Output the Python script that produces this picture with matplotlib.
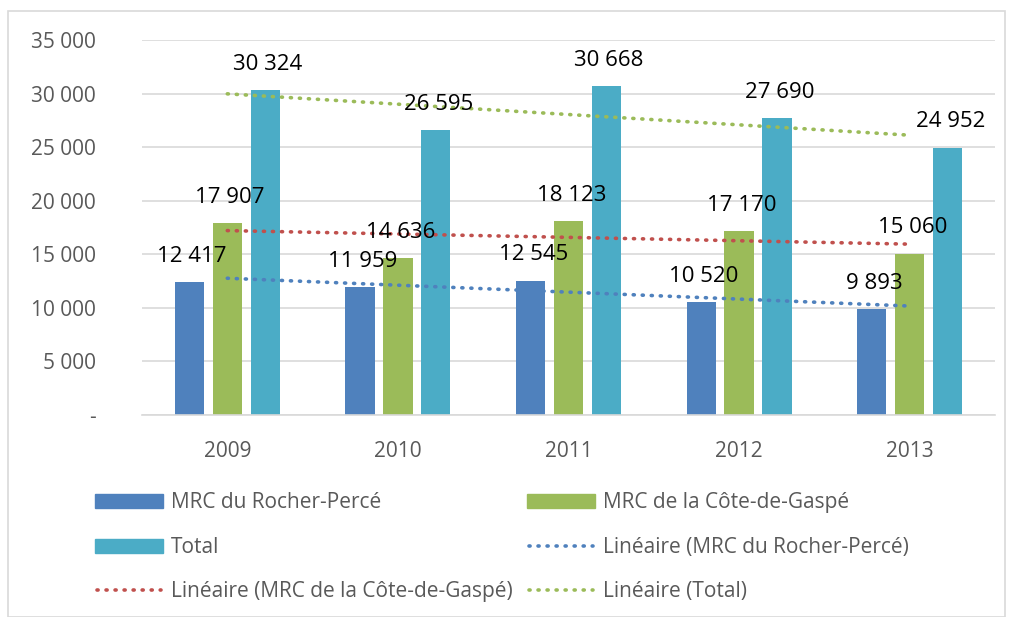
import numpy as np
import matplotlib
matplotlib.use("Agg")
import matplotlib.pyplot as plt
from matplotlib.patches import Rectangle
from matplotlib.lines import Line2D

years = ["2009", "2010", "2011", "2012", "2013"]
rocher = [12417, 11959, 12545, 10520, 9893]
gaspe = [17907, 14636, 18123, 17170, 15060]
total = [30324, 26595, 30668, 27690, 24952]
series_names = ["MRC du Rocher-Percé", "MRC de la Côte-de-Gaspé", "Total"]
yticks = [0, 5000, 10000, 15000, 20000, 25000, 30000, 35000]

colors = ["#4F81BD", "#9BBB59", "#4BACC6"]
trend_colors = ["#4F81BD", "#C0504D", "#9BBB59"]
DOT = (0, (0.3, 2.2))

plt.rcParams['font.family'] = ['Open Sans', 'DejaVu Sans']

W, H = 1010, 617
fig = plt.figure(figsize=(W / 100, H / 100), dpi=100)
fig.patches.append(Rectangle((8/W, 0), 997/W, 1 - 11/H, transform=fig.transFigure,
                             fill=False, edgecolor="#D9D9D9", linewidth=1.2))
ax = fig.add_axes([142/W, 1 - 415/H, 853/W, 375/H])

x = np.arange(len(years))
width = 0.172
step = 0.222
data = [rocher, gaspe, total]
for i, (vals, c) in enumerate(zip(data, colors)):
    xs = x + (i - 1) * step
    ax.bar(xs, vals, width=width, color=c, zorder=2)
    for xi, v in zip(xs, vals):
        s = f"{v:,}".replace(",", " ")
        ax.annotate(s, (xi, v), xytext=(2, 11), textcoords="offset points",
                    ha="center", va="bottom", fontsize=16, color="black", zorder=5)

# linear trendlines
for vals, c in zip(data, trend_colors):
    p = np.polyfit(x, vals, 1)
    ax.plot(x, np.polyval(p, x), linestyle=DOT, dash_capstyle="round",
            color=c, linewidth=2.6, zorder=3)

ax.set_xlim(-0.5, 4.5)
ax.set_ylim(0, 35000)
ax.set_yticks(yticks)
ax.set_yticklabels(["-" if t == 0 else f"{t:,}".replace(",", " ") for t in yticks])
ax.set_xticks(x)
ax.set_xticklabels(years)
ax.tick_params(axis="both", length=0, labelsize=15, colors="#595959")
ax.tick_params(axis="y", pad=33)
ax.tick_params(axis="x", pad=19)
ax.grid(axis="y", color="#D9D9D9", linewidth=1.2, zorder=0)
for s in ["top", "right", "left"]:
    ax.spines[s].set_visible(False)
ax.spines["bottom"].set_color("#D9D9D9")
ax.spines["bottom"].set_linewidth(1.2)

# legend (two columns, three rows)
entries = [
    ("patch", colors[0], series_names[0]),
    ("patch", colors[2], series_names[2]),
    ("line", trend_colors[1], "Linéaire (" + series_names[1] + ")"),
    ("patch", colors[1], series_names[1]),
    ("line", trend_colors[0], "Linéaire (" + series_names[0] + ")"),
    ("line", trend_colors[2], "Linéaire (" + series_names[2] + ")"),
]
col_x = [95, 527]
row_y = [501, 546, 590]
for k, (kind, c, lab) in enumerate(entries):
    cx = col_x[k // 3]
    ry = row_y[k % 3]
    if kind == "patch":
        fig.patches.append(Rectangle((cx / W, 1 - (ry + 7) / H), 68 / W, 14 / H,
                                     transform=fig.transFigure, color=c))
    else:
        fig.lines.append(Line2D([(cx + 2) / W, (cx + 66) / W], [1 - ry / H, 1 - ry / H],
                                transform=fig.transFigure, color=c, linestyle=DOT,
                                linewidth=2.6, dash_capstyle="round"))
    fig.text((cx + 76) / W, 1 - (ry + 7) / H, lab, fontsize=15, color="#595959",
             ha="left", va="baseline")

plt.savefig("out.png", dpi=100)
